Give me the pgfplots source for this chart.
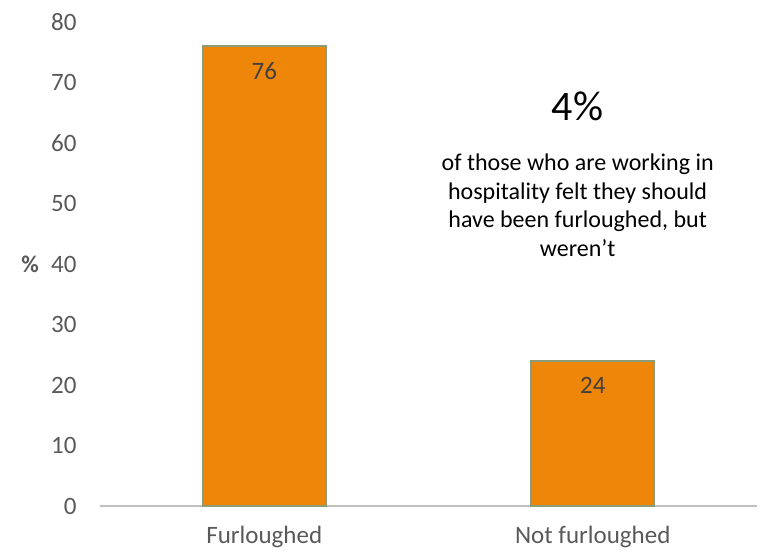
\documentclass[border=0pt]{standalone}
\usepackage{pgfplots}
\pgfplotsset{compat=1.18}
\usepackage{fontspec}
\setmainfont{Carlito}
\definecolor{barfill}{RGB}{238,134,10}
\definecolor{baredge}{RGB}{140,155,120}
\definecolor{ticktext}{RGB}{89,89,89}
\definecolor{labtext}{RGB}{64,64,64}
\definecolor{axisgray}{RGB}{191,191,191}
\begin{document}
\begin{tikzpicture}
\useasboundingbox (-100bp,-47bp) rectangle (660bp,506bp);
\begin{axis}[
  scale only axis,
  width=657bp, height=484bp,
  xmin=-0.5, xmax=1.5,
  ymin=0, ymax=80,
  ytick={0,10,...,80},
  xtick={0,1},
  xticklabels={Furloughed, Not furloughed},
  major tick length=0pt,
  axis lines*=left,
  x axis line style={draw=axisgray, line width=2bp, -},
  y axis line style={draw=none},
  /pgf/number format/assume math mode=true,
  yticklabel style={font=\fontsize{25bp}{28bp}\selectfont, text=ticktext, xshift=-20bp},
  xticklabel style={font=\fontsize{25bp}{28bp}\selectfont, text=ticktext, yshift=-17bp},
  ylabel={\textbf{\%}},
  ylabel style={at={(rel axis cs:0,0.5)}, anchor=center, rotate=-90, xshift=-70bp, font=\fontsize{24bp}{26bp}\selectfont, text=ticktext},
  clip=false,
]
\addplot[ybar, bar width=123bp, fill=barfill, draw=baredge, line width=2bp,
  nodes near coords,
  every node near coord/.append style={anchor=north, yshift=-12bp, font=\fontsize{25bp}{28bp}\selectfont, text=labtext},
] coordinates {(0,76) (1,24)};
\node[font=\fontsize{42bp}{46bp}\selectfont, text=black] at (axis cs:0.954,66.1) {4\%};
\node[font=\fontsize{24bp}{28.5bp}\selectfont, text=black, align=center] at (axis cs:0.954,49.7) {of those who are working in\\hospitality felt they should\\have been furloughed, but\\weren’t};
\end{axis}
\end{tikzpicture}
\end{document}
